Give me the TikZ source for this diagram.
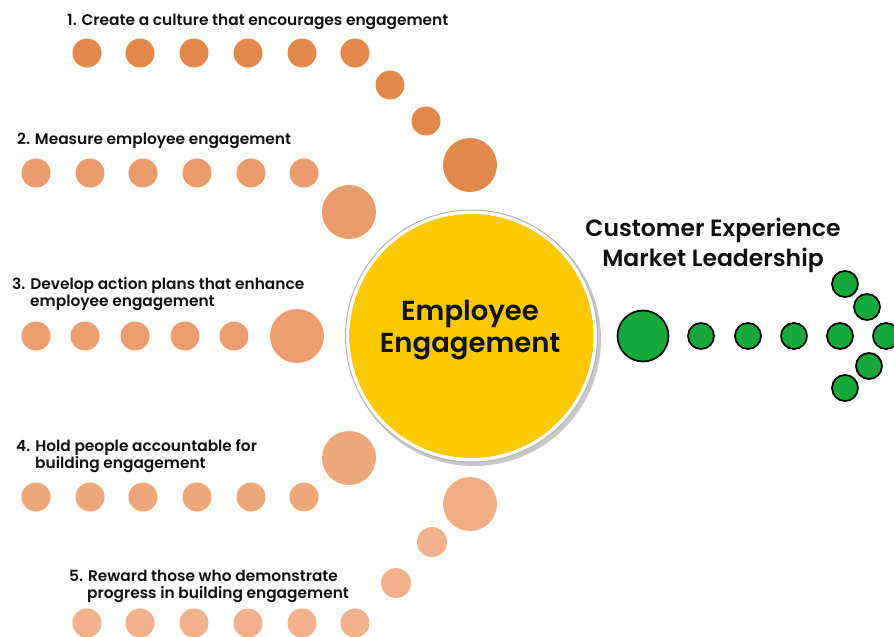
\documentclass[tikz,border=0pt]{standalone}
\usepackage{fontspec}
\setmainfont{Poppins}[BoldFont={Poppins SemiBold}]
\definecolor{oA}{HTML}{E0894A}
\definecolor{oB}{HTML}{E99D6C}
\definecolor{oC}{HTML}{EC9E70}
\definecolor{oD}{HTML}{EEA77B}
\definecolor{oE}{HTML}{F0AE86}
\definecolor{oF}{HTML}{F1B28B}
\definecolor{grn}{HTML}{17A83B}
\definecolor{ylw}{HTML}{F9C900}
\definecolor{ylwd}{HTML}{EBB500}
\definecolor{txt}{HTML}{111111}
\pgfdeclareradialshading{yshade}{\pgfpoint{0bp}{0bp}}{color(0bp)=(ylw); color(40bp)=(ylw); color(50bp)=(ylwd)}
\begin{document}
\begin{tikzpicture}[x=1pt,y=-1pt,
  dot/.style={circle,inner sep=0pt,minimum size=29pt},
  bigdot/.style={circle,inner sep=0pt,minimum size=54pt},
  gdot/.style={circle,inner sep=0pt,minimum size=26pt,draw=black,line width=1.7pt,fill=grn},
  lbl/.style={anchor=base west,inner sep=0pt,text=txt,font=\bfseries\fontsize{15.4}{18}\selectfont}]
\useasboundingbox (0,0) rectangle (894,637);
\fill[white] (0,0) rectangle (894,637);
% row 1
\foreach \x [count=\i] in {87,140,194,248,302,355} \node[dot,fill=oA] (r1c\i) at (\x,53) {};
\node[dot,fill=oA] (r1d1) at (390,85) {};
\node[dot,fill=oA] (r1d2) at (426,121) {};
\node[bigdot,fill=oA] (b1) at (470,165) {};
% row 2
\foreach \x [count=\i] in {36,90,143,197,251,304} \node[dot,fill=oB] (r2c\i) at (\x,173) {};
\node[bigdot,fill=oB] (b2) at (349,212) {};
% row 3
\foreach \x [count=\i] in {36,85,135,185,234} \node[dot,fill=oC] (r3c\i) at (\x,336) {};
\node[bigdot,fill=oC] (b3) at (297,336) {};
% row 4
\foreach \x [count=\i] in {36,90,143,197,251,304} \node[dot,fill=oD] (r4c\i) at (\x,497) {};
\node[bigdot,fill=oD] (b4) at (349,458) {};
\node[bigdot,fill=oE] (b5) at (470,504) {};
\node[dot,minimum size=30pt,fill=oF] (r5d1) at (432,542) {};
\node[dot,minimum size=30pt,fill=oF] (r5d2) at (396,583) {};
% row 5
\foreach \x [count=\i] in {87,140,194,248,302,355} \node[dot,fill=oF] (r5c\i) at (\x,623) {};
% central circle
\fill[black!22] (474,339) circle (127);
\node[circle,inner sep=0pt,minimum size=252pt,fill=white,draw=black!30,line width=1pt] (rim) at (471.5,336) {};
\shade[shading=yshade] (471.5,336) circle (122);
\node[anchor=base,inner sep=0pt,text=txt,font=\bfseries\fontsize{27.5}{32}\selectfont] (ee1) at (470,320) {Employee};
\node[anchor=base,inner sep=0pt,text=txt,font=\bfseries\fontsize{27.5}{32}\selectfont] (ee2) at (470,352) {Engagement};
% green
\node[gdot,minimum size=51pt] (g0) at (643,336) {};
\foreach \x [count=\i] in {701,748,794,840,886} \node[gdot] (g\i) at (\x,336) {};
\node[gdot] (ga) at (845,284) {};
\node[gdot] (gb) at (867,307) {};
\node[gdot] (gc) at (869,366) {};
\node[gdot] (gd) at (845,388) {};
\node[anchor=base,inner sep=0pt,text=txt,font=\bfseries\fontsize{23.5}{28}\selectfont] (ce) at (713,236) {Customer Experience};
\node[anchor=base,inner sep=0pt,text=txt,font=\bfseries\fontsize{23.5}{28}\selectfont] (ml) at (713,266) {Market Leadership};
% labels
\node[lbl] (l1) at (67,25) {1. Create a culture that encourages engagement};
\node[lbl] (l2) at (17,144) {2. Measure employee engagement};
\node[lbl] (l3a) at (12,289) {3. Develop action plans that enhance};
\node[lbl] (l3b) at (30,306) {employee engagement};
\node[lbl] (l4a) at (16,451) {4. Hold people accountable for};
\node[lbl] (l4b) at (35,468) {building engagement};
\node[lbl] (l5a) at (69,581) {5. Reward those who demonstrate};
\node[lbl] (l5b) at (87,598) {progress in building engagement};
\end{tikzpicture}
\end{document}
